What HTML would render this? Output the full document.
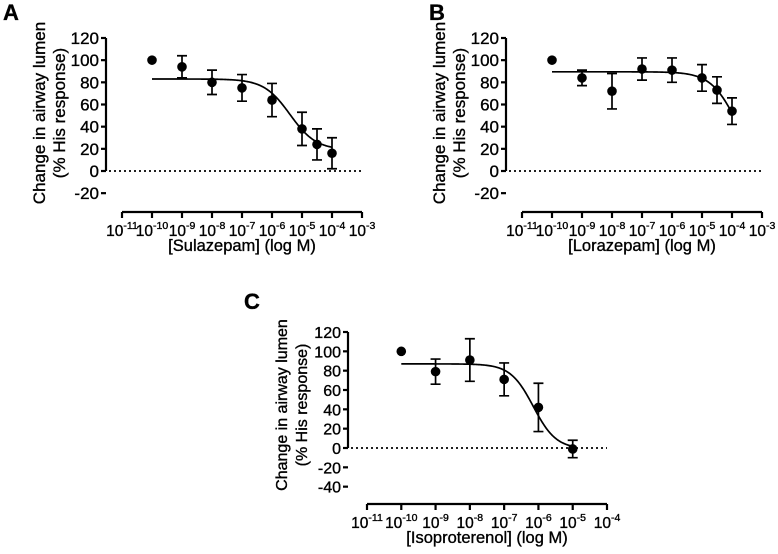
<!DOCTYPE html>
<html><head><meta charset="utf-8"><style>
body{margin:0;background:#fff}
svg{display:block;font-family:"Liberation Sans",Arial,sans-serif}
text{stroke:#000;stroke-width:0.35}
</style></head><body>
<svg id="fig" width="778" height="554" viewBox="0 0 778 554"></svg>
<script>
// Panel A data (Sulazepam)
const aX=[-10,-9,-8,-7,-6,-5,-4.5,-4];
const aY=[100,94,80,75,64,38,24,16];
const aErr=[0,10,11,12,15,15,14,14];
const aFit=[83,19,-5.4,1.0]; // top,bottom,logEC50,hill
// Panel B data (Lorazepam)
const bX=[-10,-9,-8,-7,-6,-5,-4.5,-4];
const bY=[100,84,72,92,91,84,73,54];
const bErr=[0,7,16,10,11,12,12,12];
const bFit=[89.5,0,-3.85,1.0];
// Panel C data (Isoproterenol)
const cX=[-10,-9,-8,-7,-6,-5];
const cY=[100,79,91,71,42,-1];
const cErr=[0,13,22,17,25,9];
const cFit=[87,-1,-6.15,1.3];
const yTicksAB=[120,100,80,60,40,20,0,-20];
const yTicksC=[120,100,80,60,40,20,0,-20,-40];
const xTicksAB=[-11,-10,-9,-8,-7,-6,-5,-4,-3];
const xTicksC=[-11,-10,-9,-8,-7,-6,-5,-4];

const NS="http://www.w3.org/2000/svg";
const svg=document.getElementById('fig');
function mk(tag,attrs,parent,text){const e=document.createElementNS(NS,tag);for(const k in attrs)e.setAttribute(k,attrs[k]);if(text!==undefined)e.textContent=text;(parent||svg).appendChild(e);return e;}

function panel(cfg){
  const g=mk('g',{});
  
  
  const ys=v=>cfg.y0+(v-cfg.ymin)*(cfg.y1-cfg.y0)/(cfg.ymax-cfg.ymin);
  const xs=v=>cfg.x0+(v-cfg.xmin)*(cfg.x1-cfg.x0)/(cfg.xmax-cfg.xmin);
  const lbl=mk('text',{x:cfg.lx,y:cfg.ly,'font-size':22,'font-weight':'bold'},g,cfg.id);
  
  
  const ya=mk('line',{x1:cfg.ax,x2:cfg.ax,y1:ys(cfg.ymax),y2:ys(cfg.ymin),stroke:'#000','stroke-width':2.2},g);
  
  
  cfg.yt.forEach(t=>{
    mk('line',{x1:cfg.ax-5,x2:cfg.ax,y1:ys(t),y2:ys(t),stroke:'#000','stroke-width':2.2},g);
    const tl=mk('text',{x:cfg.ax-7,y:ys(t)+6,'font-size':cfg.fs,'text-anchor':'end'},g,String(t));
    
    
  });
  const yt=mk('text',{transform:`translate(${cfg.ax-61},${cfg.ytc}) rotate(-90)`,'font-size':cfg.fs,'text-anchor':'middle'},g);
  
  
  mk('tspan',{x:0,y:0},yt,'Change in airway lumen');
  mk('tspan',{x:0,y:20},yt,'(% His response)');
  const xa=mk('line',{x1:xs(cfg.xmin),x2:xs(cfg.xmax),y1:cfg.xy,y2:cfg.xy,stroke:'#000','stroke-width':2.2},g);
  
  
  cfg.xt.forEach(t=>{
    mk('line',{x1:xs(t),x2:xs(t),y1:cfg.xy,y2:cfg.xy+6,stroke:'#000','stroke-width':2.2},g);
    const tl=mk('text',{x:xs(t),y:cfg.xy+24,'font-size':15.5,'text-anchor':'middle'},g);
    
    
    mk('tspan',{},tl,'10');
    mk('tspan',{dy:-7,'font-size':10.5},tl,String(t));
  });
  const xt=mk('text',{x:(xs(cfg.xmin)+xs(cfg.xmax))/2,y:cfg.xy+39,'font-size':16.5,'text-anchor':'middle'},g,cfg.title);
  
  
  const zl=mk('line',{x1:cfg.ax+3,x2:xs(cfg.xmax),y1:ys(0),y2:ys(0),stroke:'#000','stroke-width':1.8,'stroke-dasharray':'2 3'},g);
  
  
  const [top,bot,ec,h]=cfg.fit;
  let d='';
  for(let i=0;i<=200;i++){const x=cfg.cx0+(cfg.cx1-cfg.cx0)*i/200;const y=bot+(top-bot)/(1+Math.pow(10,(x-ec)*h));d+=(i?'L':'M')+xs(x).toFixed(2)+','+ys(y).toFixed(2);}
  const cv=mk('path',{d:d,fill:'none',stroke:'#000','stroke-width':1.7},g);
  
  
  cfg.X.forEach((x,i)=>{
    const px=xs(x),py=ys(cfg.Y[i]),e=cfg.E[i];
    if(e>0){
      const eb=mk('path',{d:`M${px},${ys(cfg.Y[i]+e)}V${ys(cfg.Y[i]-e)}M${px-5},${ys(cfg.Y[i]+e)}H${px+5}M${px-5},${ys(cfg.Y[i]-e)}H${px+5}`,stroke:'#000','stroke-width':1.7,fill:'none'},g);
      
      
    }
    const c=mk('circle',{cx:px,cy:py,r:4.8,fill:'#000'},g);
    
    
  });
}
panel({id:'A',lx:3,ly:20,fs:17,ax:106,y0:171,y1:38,ymin:0,ymax:120,yt:yTicksAB,ytc:113,xy:212,x0:122,x1:362,xmin:-11,xmax:-3,xt:xTicksAB,title:'[Sulazepam] (log M)',fit:aFit,cx0:-10,cx1:-4,X:aX,Y:aY,E:aErr});
panel({id:'B',lx:429,ly:20,fs:17,ax:506,y0:171,y1:38,ymin:0,ymax:120,yt:yTicksAB,ytc:113,xy:212,x0:522,x1:762,xmin:-11,xmax:-3,xt:xTicksAB,title:'[Lorazepam] (log M)',fit:bFit,cx0:-10,cx1:-4,X:bX,Y:bY,E:bErr});
panel({id:'C',lx:244,ly:309,fs:16,ax:348,y0:448,y1:332,ymin:0,ymax:120,yt:yTicksC,ytc:405,xy:504,x0:367,x1:607,xmin:-11,xmax:-4,xt:xTicksC,title:'[Isoproterenol] (log M)',fit:cFit,cx0:-10,cx1:-5,X:cX,Y:cY,E:cErr});
</script>
</body></html>
